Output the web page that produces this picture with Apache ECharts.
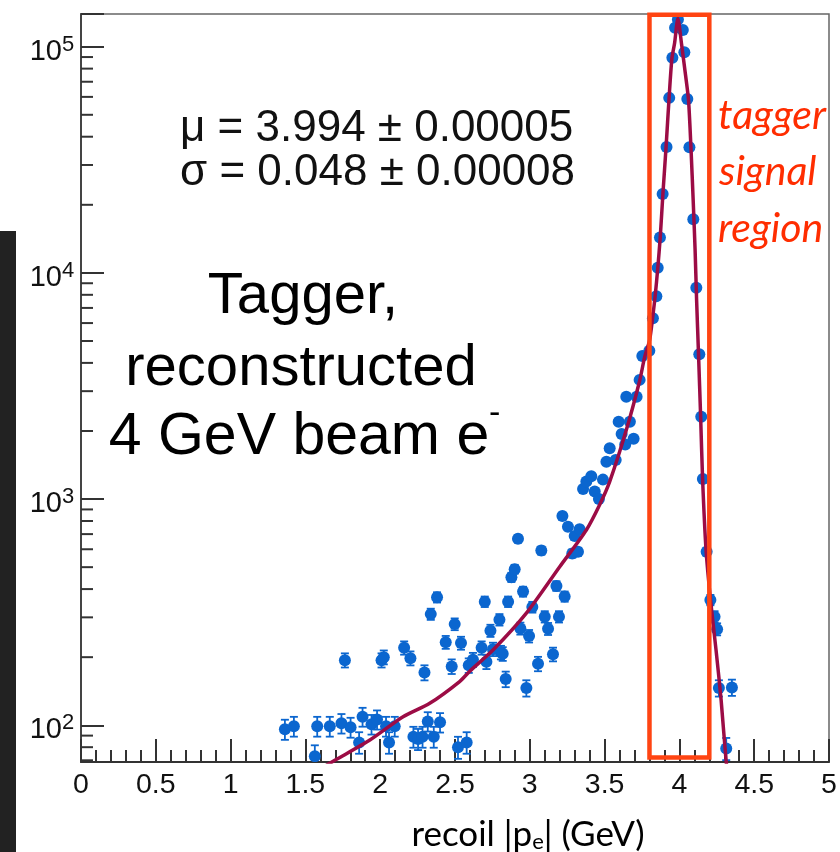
<!DOCTYPE html>
<html><head><meta charset="utf-8">
<script src="https://cdn.jsdelivr.net/npm/echarts@6/dist/echarts.min.js"></script>
<style>html,body{margin:0;padding:0;background:#fff}#c{width:840px;height:852px}</style>
</head><body><div id="c"></div>
<script>
// ---- data ----
const binX = [1.363,1.423,1.563,1.579,1.663,1.741,1.764,1.802,1.859,1.882,1.942,1.979,2.009,2.024,2.039,2.059,2.097,2.160,2.202,2.222,2.253,2.283,2.296,2.318,2.338,2.358,2.380,2.400,2.438,2.478,2.498,2.520,2.540,2.578,2.592,2.620,2.678,2.699,2.710,2.737,2.754,2.797,2.807,2.819,2.839,2.855,2.877,2.899,2.921,2.937,2.955,2.977,2.995,3.017,3.055,3.077,3.100,3.122,3.155,3.178,3.195,3.218,3.233,3.255,3.284,3.300,3.322,3.333,3.356,3.378,3.411,3.434,3.462,3.489,3.512,3.534,3.574,3.594,3.614,3.638,3.645,3.669,3.694,3.714,3.734,3.752,3.799,3.823,3.846,3.855,3.870,3.888,3.914,3.932,3.953,3.971,3.990,4.023,4.033,4.053,4.067,4.093,4.113,4.133,4.146,4.157,4.182,4.207,4.235,4.252,4.264,4.313,4.351];
const binCounts = [96,99,73,99,99,102,194,98,84,109,101,106,194,200,99,84,99,220,198,89,87,89,171,104,310,89,368,103,233,182,280,80,231,84,184,195,220,352,191,262,217,293,210,207,160,352,451,490,667,268,390,146,248,333,187,592,302,267,206,413,302,841,371,755,575,687,585,735,1109,1195,1262,1079,1000,1219,1462,1677,1489,2197,1941,1742,2837,2197,1849,2837,3365,4295,4530,6295,7885,10540,14350,22340,36050,59400,89300,121400,131800,118600,94600,58700,35900,17260,8590,4366,2312,1227,585,358,302,266,146,79,147];

const fitX = [1.597,1.697,1.931,2.153,2.331,2.531,2.597,2.754,2.977,3.200,3.378,3.467,3.534,3.645,3.734,3.768,3.801,3.821,3.838,3.856,3.872,3.890,3.911,3.931,3.950,3.968,3.990,4.015,4.041,4.061,4.078,4.092,4.105,4.115,4.128,4.142,4.155,4.178,4.208,4.245,4.279,4.312,4.335];
const fitY = [64,70,86,109,125,156,173,215,313,502,730,944,1194,2018,3327,4250,5050,6330,7910,10600,14400,22500,36100,59300,88900,103800,133350,101900,75000,58100,34900,21000,12600,7590,4340,2310,1227,596,358,215,129,70,52];

const xTickLabels = ['0','0.5','1','1.5','2','2.5','3','3.5','4','4.5','5'];
const yDecades = [2,3,4,5];
const yMinorTicks = [70,80,90,200,300,400,500,600,700,800,900,2000,3000,4000,5000,6000,7000,8000,9000,20000,30000,40000,50000,60000,70000,80000,90000];
const signalRegion = [3.8, 4.2];
const signalRegionY = [72, 138500];

const X_MIN = 0, X_MAX = 5, Y_MIN = 68.8, Y_MAX = 139500;

const fitTextLines = ['\u03bc = 3.994 \u00b1 0.00005', '\u03c3 = 0.048 \u00b1 0.00008'];

// ---- chart ----
const BLUE = '#0b66cf';
const chart = echarts.init(document.getElementById('c'), null, {renderer:'canvas'});

const pointData = binX.map((x,i)=>{
  const n = binCounts[i], e = Math.sqrt(n);
  return [x, n, n - e, n + e];
});

function renderPoint(params, api){
  const x = api.value(0), y = api.value(1), lo = api.value(2), hi = api.value(3);
  const p = api.coord([x, y]);
  const pl = api.coord([x, lo]);
  const ph = api.coord([x, hi]);
  const cw = 4;
  const st = {stroke: BLUE, lineWidth: 1.8};
  return {type:'group', children:[
    {type:'line', shape:{x1:p[0], y1:pl[1], x2:p[0], y2:ph[1]}, style:st},
    {type:'line', shape:{x1:p[0]-cw, y1:pl[1], x2:p[0]+cw, y2:pl[1]}, style:st},
    {type:'line', shape:{x1:p[0]-cw, y1:ph[1], x2:p[0]+cw, y2:ph[1]}, style:st},
    {type:'circle', shape:{cx:p[0], cy:p[1], r:6}, style:{fill: BLUE}}
  ]};
}

function renderMinorY(params, api){
  const c = api.coord([api.value(0), api.value(1)]);
  return {type:'line', shape:{x1:c[0], y1:c[1], x2:c[0]+12, y2:c[1]}, style:{stroke:'#333', lineWidth:2}};
}

function renderYLabel(params, api){
  const c = api.coord([api.value(0), api.value(1)]);
  const e = api.value(2);
  const xr = c[0] - 19;
  return {type:'group', children:[
    {type:'text', x:xr, y:c[1]+5, style:{text:'10', font:'29px "Liberation Sans"', fill:'#111', align:'right', verticalAlign:'middle'}},
    {type:'text', x:xr, y:c[1]-2, style:{text:String(e), font:'22px "Liberation Sans"', fill:'#111', align:'left', verticalAlign:'middle'}}
  ]};
}

function renderBox(params, api){
  const a = api.coord([api.value(0), api.value(3)]);
  const b = api.coord([api.value(1), api.value(2)]);
  return {type:'rect', shape:{x:a[0], y:a[1], width:b[0]-a[0], height:b[1]-a[1]},
    style:{fill:'none', stroke:'#ff4412', lineWidth:4.5}};
}

const option = {
  animation:false,
  backgroundColor:'#fff',
  grid:{left:81, top:14, right:11, bottom:90, show:true, borderColor:'#666', borderWidth:1.5, backgroundColor:'transparent'},
  xAxis:{
    type:'value', min:X_MIN, max:X_MAX, interval:0.5,
    axisLine:{show:true, onZero:false, lineStyle:{color:'#333', width:2}},
    axisTick:{show:true, inside:true, length:23, lineStyle:{color:'#333', width:2}},
    minorTick:{show:true, splitNumber:5, length:12, lineStyle:{color:'#333', width:2}},
    splitLine:{show:false},
    axisLabel:{margin:9, color:'#111', fontSize:28.5, fontFamily:'Liberation Sans',
      formatter:(v)=>{ const i = Math.round(v/0.5); return xTickLabels[i] !== undefined ? xTickLabels[i] : ''; }}
  },
  yAxis:{
    type:'log', logBase:10, min:Y_MIN, max:Y_MAX,
    axisLine:{show:true, lineStyle:{color:'#444', width:2}},
    axisTick:{show:true, inside:true, length:23, lineStyle:{color:'#333', width:2}},
    splitLine:{show:false},
    axisLabel:{show:false}
  },
  series:[
    {type:'custom', name:'minorY', data: yMinorTicks.map(v=>[X_MIN, v]), renderItem: renderMinorY, silent:true, clip:true, z:3},
    {type:'custom', name:'yLabels', data: yDecades.map(e=>[X_MIN, Math.pow(10, e), e]), renderItem: renderYLabel, silent:true, clip:false, z:3},
    {type:'custom', name:'data', data: pointData, renderItem: renderPoint, clip:true, z:4},
    {type:'line', name:'fit', data: fitX.map((x,i)=>[x, fitY[i]]), showSymbol:false, smooth:0.25,
      lineStyle:{color:'#9c0c45', width:3.5}, clip:true, z:5},
    {type:'custom', name:'signal', data:[[signalRegion[0], signalRegion[1], signalRegionY[0], signalRegionY[1]]], renderItem: renderBox, clip:false, z:6}
  ],
  graphic:[
    {type:'rect', left:0, top:231, shape:{x:0, y:0, width:16, height:621}, style:{fill:'#222'}, z:100},
    {type:'text', x:180, y:129, style:{text:fitTextLines[0], font:'44px "Liberation Sans"', fill:'#111', align:'left', verticalAlign:'middle'}, z:100},
    {type:'text', x:180, y:173, style:{text:fitTextLines[1], font:'44px "Liberation Sans"', fill:'#111', align:'left', verticalAlign:'middle'}, z:100},
    {type:'text', x:303, y:297, style:{text:'Tagger,', font:'58px "Liberation Sans"', fill:'#000', align:'center', verticalAlign:'middle'}, z:100},
    {type:'text', x:301, y:369, style:{text:'reconstructed', font:'58px "Liberation Sans"', fill:'#000', align:'center', verticalAlign:'middle'}, z:100},
    {type:'text', x:299, y:438, style:{text:'4 GeV beam e', font:'59px "Liberation Sans"', fill:'#000', align:'center', verticalAlign:'middle'}, z:100},
    {type:'text', x:489, y:414, style:{text:'-', font:'34px "Liberation Sans"', fill:'#000', align:'left', verticalAlign:'middle'}, z:100},
    {type:'text', x:718, y:116, style:{text:'tagger', font:'italic 41px Lato', fill:'#ff2d00', align:'left', verticalAlign:'middle'}, z:100},
    {type:'text', x:719, y:172, style:{text:'signal', font:'italic 41px Lato', fill:'#ff2d00', align:'left', verticalAlign:'middle'}, z:100},
    {type:'text', x:718, y:229, style:{text:'region', font:'italic 41px Lato', fill:'#ff2d00', align:'left', verticalAlign:'middle'}, z:100},
    {type:'text', x:528, y:835, style:{text:'{a|recoil |p}{e|e}{a|| (GeV)}', align:'center', verticalAlign:'middle',
      rich:{a:{fontSize:35, fontFamily:'Lato', color:'#111', lineHeight:36, verticalAlign:'top'},
            e:{fontSize:22, fontFamily:'Lato', color:'#111', lineHeight:22, verticalAlign:'bottom', padding:[14,0,0,0]}}}, z:100}
  ]
};
chart.setOption(option);
</script>
</body></html>
